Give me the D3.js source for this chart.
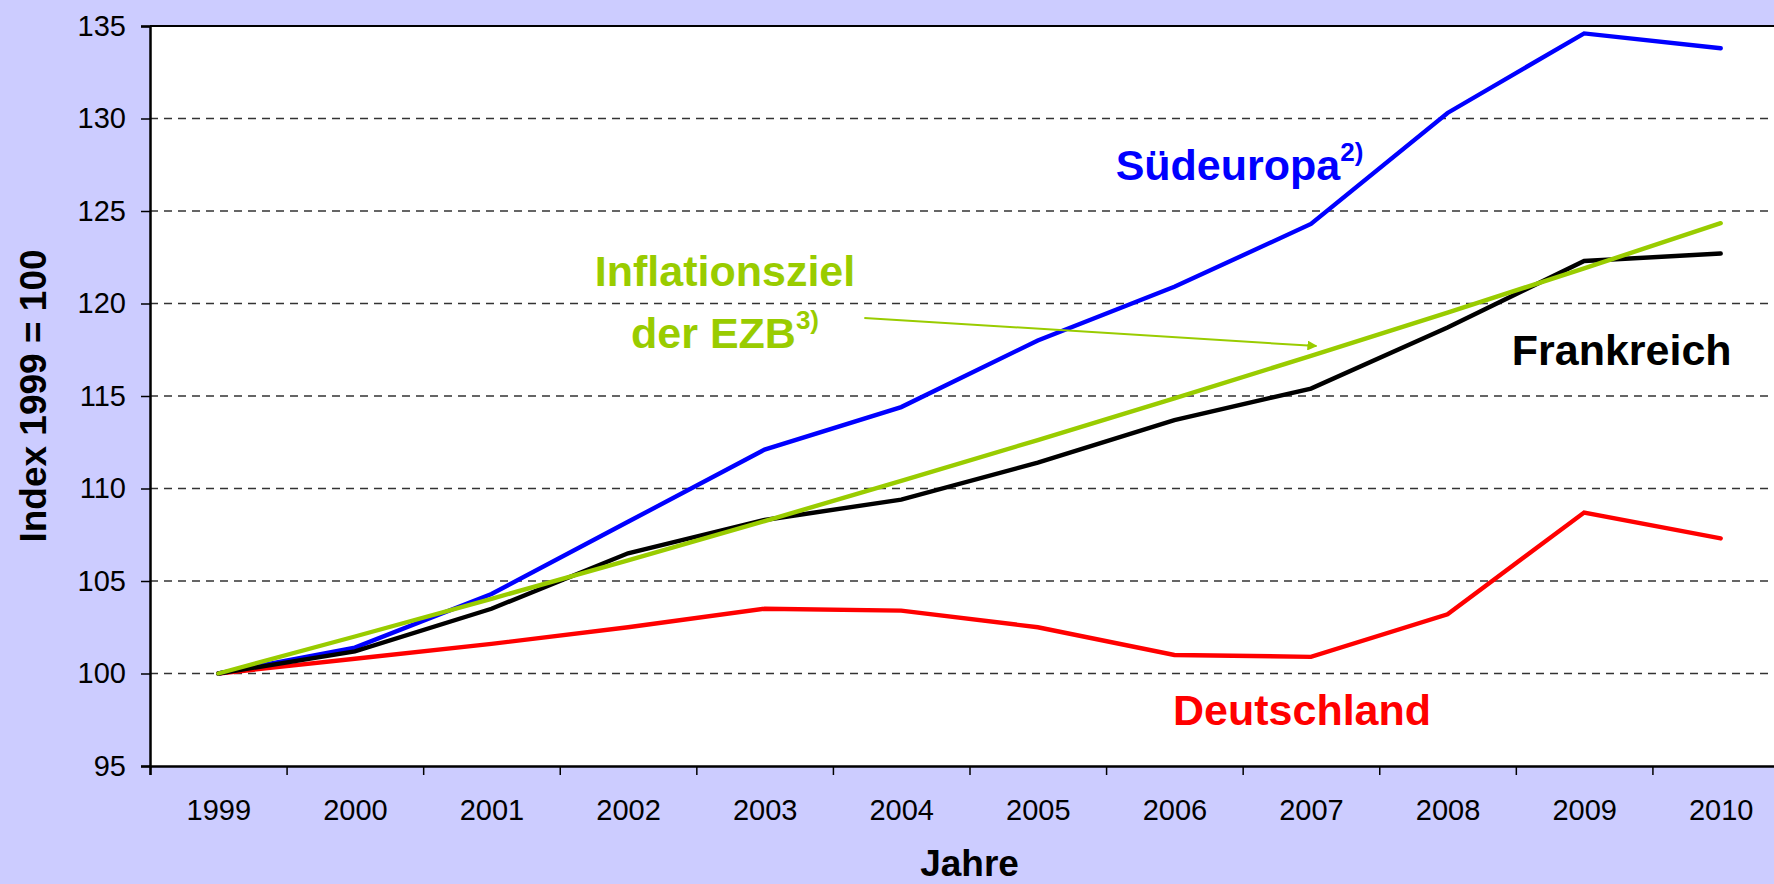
<!DOCTYPE html>
<html>
<head>
<meta charset="utf-8">
<script src="https://cdn.jsdelivr.net/npm/d3@7"></script>
<style>
  html, body { margin: 0; padding: 0; background: #CCCCFF; }
  svg { display: block; font-family: "Liberation Sans", Arial, sans-serif; }
</style>
</head>
<body>
<svg id="chart" width="1774" height="884"></svg>
<script>
// ---- data ----
const years = [1999, 2000, 2001, 2002, 2003, 2004, 2005, 2006, 2007, 2008, 2009, 2010];
const suedeuropa = [100, 101.4, 104.3, 108.2, 112.1, 114.4, 118.0, 120.9, 124.3, 130.3, 134.6, 133.8];
const frankreich = [100, 101.2, 103.5, 106.5, 108.3, 109.4, 111.4, 113.7, 115.4, 118.7, 122.3, 122.7];
const deutschland = [100, 100.8, 101.6, 102.5, 103.5, 103.4, 102.5, 101.0, 100.9, 103.2, 108.7, 107.3];
const inflationsziel = [100, 102.0, 104.04, 106.12, 108.24, 110.41, 112.62, 114.87, 117.17, 119.51, 121.90, 124.34];
const yTicks = [95, 100, 105, 110, 115, 120, 125, 130, 135];
const yTitle = "Index 1999 = 100";
const xTitle = "Jahre";

// ---- layout ----
const mLeft = 150, mRight = 1789, mTop = 26, mBottom = 766;

const svg = d3.select("#chart");
const x = d3.scaleLinear().domain([years[0] - 0.5, years[years.length - 1] + 0.5]).range([mLeft, mRight]);
const y = d3.scaleLinear().domain([95, 135]).range([mBottom, mTop]);

// plot area
svg.append("rect").attr("x", mLeft).attr("y", mTop)
  .attr("width", mRight - mLeft).attr("height", mBottom - mTop).attr("fill", "#FFFFFF");

// gridlines
svg.append("g").selectAll("line").data(yTicks.filter(v => v > 95 && v < 135)).join("line")
  .attr("x1", mLeft).attr("x2", mRight)
  .attr("y1", d => y(d)).attr("y2", d => y(d))
  .attr("stroke", "#333333").attr("stroke-width", 1.3).attr("stroke-dasharray", "8,6");

// top border
svg.append("line").attr("x1", mLeft).attr("x2", mRight).attr("y1", y(135)).attr("y2", y(135))
  .attr("stroke", "#000").attr("stroke-width", 2);

// y axis
const yAxis = svg.append("g").attr("transform", `translate(${mLeft},0)`)
  .call(d3.axisLeft(y).tickValues(yTicks).tickSize(9).tickPadding(15).tickFormat(d3.format("d")));
yAxis.select(".domain").attr("stroke", "#000").attr("stroke-width", 2.5);
yAxis.selectAll(".tick line").attr("stroke", "#000").attr("stroke-width", 1.5);
yAxis.selectAll("text").attr("font-size", 29).attr("fill", "#000")
  .attr("font-family", "'Liberation Sans', Arial, sans-serif");

// x axis: ticks between categories
const boundaries = years.map(d => d - 0.5).concat([years[years.length - 1] + 0.5]);
const xAxisTicks = svg.append("g").attr("transform", `translate(0,${mBottom})`)
  .call(d3.axisBottom(x).tickValues(boundaries).tickSize(9).tickFormat(""));
xAxisTicks.select(".domain").attr("stroke", "#000").attr("stroke-width", 2.5);
xAxisTicks.selectAll(".tick line").attr("stroke", "#000").attr("stroke-width", 1.5);

const xAxisLabels = svg.append("g").attr("transform", `translate(0,${mBottom})`)
  .call(d3.axisBottom(x).tickValues(years).tickSize(0).tickPadding(33).tickFormat(d3.format("d")));
xAxisLabels.select(".domain").remove();
xAxisLabels.selectAll("text").attr("font-size", 29).attr("fill", "#000")
  .attr("font-family", "'Liberation Sans', Arial, sans-serif");

// axis titles
svg.append("text").attr("x", (mLeft + mRight) / 2).attr("y", 876)
  .attr("text-anchor", "middle").attr("font-size", 37).attr("font-weight", "bold").attr("fill", "#000")
  .text(xTitle);
svg.append("text").attr("transform", `translate(46,${(mTop + mBottom) / 2}) rotate(-90)`)
  .attr("text-anchor", "middle").attr("font-size", 37).attr("font-weight", "bold").attr("fill", "#000")
  .text(yTitle);

// lines
const line = d3.line().x((d, i) => x(years[i])).y(d => y(d));
const series = [
  { values: deutschland, color: "#FF0000" },
  { values: suedeuropa, color: "#0000FF" },
  { values: frankreich, color: "#000000" },
  { values: inflationsziel, color: "#99CC00" }
];
svg.append("g").selectAll("path").data(series).join("path")
  .attr("d", d => line(d.values))
  .attr("fill", "none").attr("stroke", d => d.color)
  .attr("stroke-width", 4.4).attr("stroke-linejoin", "miter").attr("stroke-linecap", "round");

// annotations (positions in data units)
function label(xv, yv, color, main, sup, anchor) {
  const t = svg.append("text").attr("x", x(xv)).attr("y", y(yv))
    .attr("fill", color).attr("font-weight", "bold").attr("font-size", 43)
    .attr("text-anchor", anchor || "start");
  t.append("tspan").text(main);
  if (sup) t.append("tspan").attr("font-size", 26).attr("dy", -19).text(sup);
}
label(2005.57, 126.65, "#0000FF", "Südeuropa", "2)");
label(2008.47, 116.65, "#000000", "Frankreich");
label(2005.99, 97.2, "#FF0000", "Deutschland");
label(2002.71, 120.95, "#99CC00", "Inflationsziel", null, "middle");
label(2002.71, 117.6, "#99CC00", "der EZB", "3)", "middle");

// arrow
svg.append("defs").append("marker").attr("id", "arrow")
  .attr("viewBox", "0 0 10 10").attr("refX", 9).attr("refY", 5)
  .attr("markerWidth", 5).attr("markerHeight", 5).attr("orient", "auto")
  .append("path").attr("d", "M0,0 L10,5 L0,10 z").attr("fill", "#99CC00");
svg.append("line")
  .attr("x1", x(2003.73)).attr("y1", y(119.22))
  .attr("x2", x(2007.04)).attr("y2", y(117.7))
  .attr("stroke", "#99CC00").attr("stroke-width", 2).attr("marker-end", "url(#arrow)");
</script>
</body>
</html>
